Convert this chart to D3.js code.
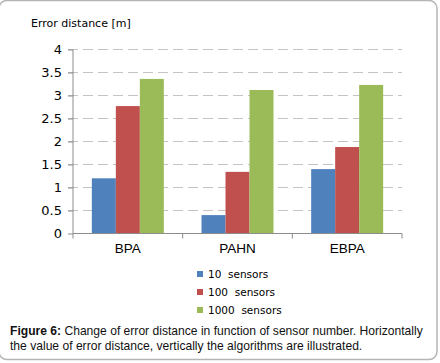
<!DOCTYPE html>
<html>
<head>
<meta charset="utf-8">
<script src="https://cdn.jsdelivr.net/npm/d3@7"></script>
<style>
  body { margin: 0; background: #fff; }
  svg { display: block; }
</style>
</head>
<body>
<div id="chart-area"></div>
<script>
// Data
let algorithms = ["BPA", "PAHN", "EBPA"];
let seriesNames = ["10  sensors", "100  sensors", "1000  sensors"];
let sensors10 = [1.20, 0.40, 1.40];
let sensors100 = [2.77, 1.34, 1.88];
let sensors1000 = [3.36, 3.12, 3.23];
let yTicks = [0, 0.5, 1, 1.5, 2, 2.5, 3, 3.5, 4];
let colors = ["#4F81BD", "#C0504D", "#9BBB59"];

let W = 440, H = 363;
let svg = d3.select("#chart-area").append("svg")
    .attr("width", W)
    .attr("height", H);

// rounded frame
svg.append("rect")
    .attr("x", -1).attr("y", 0.5)
    .attr("width", 438).attr("height", 359)
    .attr("rx", 8)
    .attr("fill", "#fff")
    .attr("stroke", "#b5b5b5")
    .attr("stroke-width", 1.5);

let x0 = 73, x1 = 402, yBase = 233.5, yTop = 49.5;

let xScale = d3.scaleBand()
    .domain(algorithms)
    .range([x0, x1])
    .padding(0);

let xInner = d3.scaleBand()
    .domain(seriesNames)
    .range([0, xScale.bandwidth()])
    .paddingInner(0)
    .paddingOuter(0.785);

let yScale = d3.scaleLinear()
    .domain([0, 4])
    .range([yBase, yTop]);

// gridlines
svg.append("g")
    .selectAll("line")
    .data(yTicks.filter(d => d > 0))
    .join("line")
    .attr("x1", x0 - 5).attr("x2", x1)
    .attr("y1", d => yScale(d)).attr("y2", d => yScale(d))
    .attr("stroke", "#c4c4c4")
    .attr("stroke-width", 1)
    .attr("stroke-dasharray", "10,5");

// bars
let seriesData = [sensors10, sensors100, sensors1000];
let bars = [];
seriesData.forEach((vals, i) => {
    vals.forEach((v, j) => bars.push({cat: algorithms[j], s: seriesNames[i], v: v, c: colors[i]}));
});

svg.append("g")
    .selectAll("rect")
    .data(bars)
    .join("rect")
    .attr("x", d => xScale(d.cat) + xInner(d.s))
    .attr("y", d => yScale(d.v))
    .attr("width", xInner.bandwidth())
    .attr("height", d => yBase - yScale(d.v))
    .attr("fill", d => d.c);

// y axis
let yAxis = d3.axisLeft(yScale)
    .tickValues(yTicks)
    .tickFormat(d3.format("~g"))
    .tickSize(5)
    .tickPadding(6);

let yg = svg.append("g")
    .attr("transform", "translate(" + x0 + ",0)")
    .call(yAxis);
yg.select(".domain").attr("stroke", "#8c8c8c").attr("d", "M0," + yTop + "V" + yBase);
yg.selectAll(".tick line").attr("stroke", "#8c8c8c");
yg.selectAll("text")
    .attr("font-family", "DejaVu Sans, Verdana, sans-serif")
    .attr("font-size", 13)
    .attr("fill", "#000");

// x axis
let xAxis = d3.axisBottom(xScale).tickSize(0).tickPadding(10);
let xg = svg.append("g")
    .attr("transform", "translate(0," + yBase + ")")
    .call(xAxis);
xg.select(".domain").attr("stroke", "#8c8c8c").attr("d", "M" + x0 + ",0H" + x1);
xg.selectAll("text")
    .attr("font-family", "Liberation Sans, Arial, sans-serif")
    .attr("font-size", 13.5)
    .attr("fill", "#000");

// category boundary ticks
svg.append("g")
    .selectAll("line")
    .data(algorithms.concat(["end"]))
    .join("line")
    .attr("x1", (d, i) => i < algorithms.length ? xScale(d) : x1)
    .attr("x2", (d, i) => i < algorithms.length ? xScale(d) : x1)
    .attr("y1", yBase).attr("y2", yBase + 5)
    .attr("stroke", "#8c8c8c");

// axis title
svg.append("text")
    .attr("x", 31).attr("y", 27)
    .attr("font-family", "DejaVu Sans, Tahoma, sans-serif")
    .attr("font-size", 11)
    .text("Error distance [m]");

// legend
let legend = svg.append("g")
    .selectAll("g")
    .data(seriesNames)
    .join("g")
    .attr("transform", (d, i) => "translate(197," + (274 + i * 18) + ")");
legend.append("rect")
    .attr("x", 0).attr("y", -3)
    .attr("width", 6).attr("height", 6)
    .attr("fill", (d, i) => colors[i]);
legend.append("text")
    .attr("x", 11).attr("y", 4)
    .attr("font-family", "DejaVu Sans, Tahoma, sans-serif")
    .attr("font-size", 10.5)
    .style("white-space", "pre")
    .text(d => d);

// caption
let cap1 = svg.append("text")
    .attr("x", 10).attr("y", 335)
    .attr("font-family", "Liberation Sans, Arial, sans-serif")
    .attr("font-size", 12.1)
    .attr("fill", "#111");
cap1.append("tspan").attr("font-weight", "bold").text("Figure 6:");
cap1.append("tspan").text(" Change of error distance in function of sensor number. Horizontally");

svg.append("text")
    .attr("x", 10).attr("y", 350)
    .attr("font-family", "Liberation Sans, Arial, sans-serif")
    .attr("font-size", 12.1)
    .attr("fill", "#111")
    .text("the value of error distance, vertically the algorithms are illustrated.");
</script>
</body>
</html>
